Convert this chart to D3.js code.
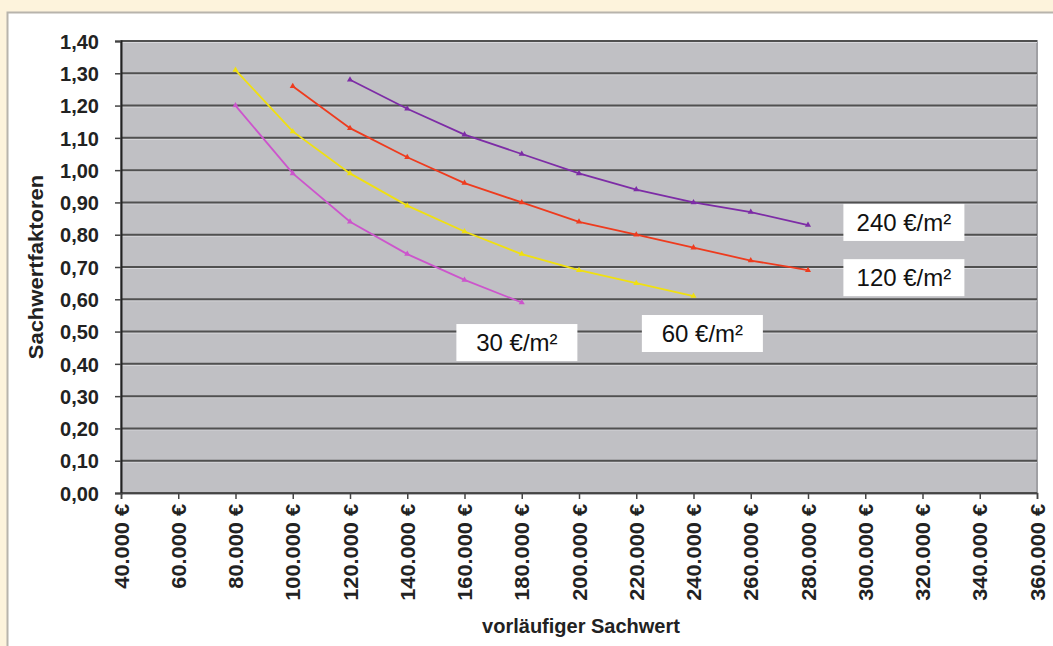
<!DOCTYPE html>
<html><head><meta charset="utf-8">
<script src="https://cdn.jsdelivr.net/npm/d3@7"></script>
<style>
html,body{margin:0;padding:0;background:#fdf3dc;}
svg{display:block;}
text{font-family:"Liberation Sans",Arial,sans-serif;}
</style></head>
<body>
<svg id="chart" width="1053" height="646"></svg>
<script>
const xTicks = [40000,60000,80000,100000,120000,140000,160000,180000,200000,220000,240000,260000,280000,300000,320000,340000,360000];
const yTicks = [0,0.1,0.2,0.3,0.4,0.5,0.6,0.7,0.8,0.9,1.0,1.1,1.2,1.3,1.4];

const s240x = [120000,140000,160000,180000,200000,220000,240000,260000,280000];
const s240y = [1.28,1.19,1.11,1.05,0.99,0.94,0.90,0.87,0.83];
const s120x = [100000,120000,140000,160000,180000,200000,220000,240000,260000,280000];
const s120y = [1.26,1.13,1.04,0.96,0.90,0.84,0.80,0.76,0.72,0.69];
const s60x = [80000,100000,120000,140000,160000,180000,200000,220000,240000];
const s60y = [1.31,1.12,0.99,0.89,0.81,0.74,0.69,0.65,0.61];
const s30x = [80000,100000,120000,140000,160000,180000];
const s30y = [1.20,0.99,0.84,0.74,0.66,0.59];

const seriesNames = ["240 €/m²","120 €/m²","60 €/m²","30 €/m²"];
const seriesColors = ["#7d2ca6","#ee3b1e","#f0e010","#cc55cc"];
// label box centres (data coords)
const labelX = [313500,313500,243100,178300];
const labelY = [0.838,0.667,0.494,0.466];

const series = [
  {name:seriesNames[0], color:seriesColors[0], pts:s240x.map((x,i)=>[x,s240y[i]])},
  {name:seriesNames[1], color:seriesColors[1], pts:s120x.map((x,i)=>[x,s120y[i]])},
  {name:seriesNames[2], color:seriesColors[2], pts:s60x.map((x,i)=>[x,s60y[i]])},
  {name:seriesNames[3], color:seriesColors[3], pts:s30x.map((x,i)=>[x,s30y[i]])}
];

const svg = d3.select("#chart");
svg.append("rect").attr("x",7.5).attr("y",12.5).attr("width",1060).attr("height",650)
  .attr("fill","#fff").attr("stroke","#b8b4ac").attr("stroke-width",2);

const L=121, R=1037, T=41, B=493;
const x = d3.scaleLinear().domain([40000,360000]).range([L,R]);
const y = d3.scaleLinear().domain([0,1.4]).range([B,T]);

svg.append("rect").attr("x",L).attr("y",T).attr("width",R-L).attr("height",B-T)
  .attr("fill","#c0c0c4").attr("stroke","#a0a0a4").attr("stroke-width",2);

const g = svg.append("g");
yTicks.forEach(v=>{
  g.append("line").attr("x1",L).attr("x2",R).attr("y1",y(v)+1.5).attr("y2",y(v)+1.5)
   .attr("stroke","#d8d8dc").attr("stroke-width",1);
  g.append("line").attr("x1",L).attr("x2",R).attr("y1",y(v)).attr("y2",y(v))
   .attr("stroke","#505050").attr("stroke-width",2);
});

const FONT = "'Liberation Sans',Arial,sans-serif";
const fmtY = d => d3.format(".2f")(d).replace(".",",");
const yAxis = d3.axisLeft(y).tickValues(yTicks).tickFormat(fmtY).tickSize(6).tickPadding(16);
const ya = svg.append("g").attr("transform",`translate(${L},0)`).call(yAxis);
ya.select(".domain").attr("stroke","#222").attr("stroke-width",2);
ya.selectAll(".tick line").attr("stroke","#444").attr("stroke-width",1.5);
ya.selectAll("text").attr("font-size",20).attr("font-weight","bold").attr("fill","#222")
  .style("font-family",FONT).attr("dy","0.36em");

const fmtX = d => d3.format(",")(d).replace(/,/g,".") + " €";
const xAxis = d3.axisBottom(x).tickValues(xTicks).tickFormat(fmtX).tickSize(6).tickPadding(0);
const xa = svg.append("g").attr("transform",`translate(0,${B})`).call(xAxis);
xa.select(".domain").attr("stroke","#444").attr("stroke-width",1.5);
xa.selectAll(".tick line").attr("stroke","#444").attr("stroke-width",1.5);
xa.selectAll("text").attr("font-size",20).attr("font-weight","bold").attr("fill","#222")
  .style("font-family",FONT)
  .attr("transform","rotate(-90) scale(1.09,1)").attr("text-anchor","end")
  .attr("x",-10).attr("y",0).attr("dy","0.36em");

svg.append("text").attr("x",581).attr("y",633).attr("text-anchor","middle")
  .attr("font-size",20).attr("font-weight","bold").attr("fill","#222").text("vorläufiger Sachwert");
svg.append("text").attr("transform","translate(43,267) rotate(-90) scale(1.1,1)").attr("text-anchor","middle")
  .attr("font-size",20).attr("font-weight","bold").attr("fill","#222").text("Sachwertfaktoren");

const line = d3.line().x(d=>x(d[0])).y(d=>y(d[1]));
const tri = d3.symbol().type(d3.symbolTriangle).size(16);
series.forEach(s=>{
  svg.append("path").datum(s.pts).attr("d",line).attr("fill","none")
    .attr("stroke",s.color).attr("stroke-width",1.8);
  svg.append("g").selectAll("path").data(s.pts).join("path")
    .attr("d",tri).attr("transform",d=>`translate(${x(d[0])},${y(d[1])})`)
    .attr("fill",s.color);
});

series.forEach((s,i)=>{
  const cx = x(labelX[i]), cy = y(labelY[i]);
  const w = 121, h = 37;
  svg.append("rect").attr("x",cx-w/2).attr("y",cy-h/2).attr("width",w).attr("height",h).attr("fill","#fff");
  svg.append("text").attr("x",cx).attr("y",cy).attr("dy","0.36em").attr("text-anchor","middle")
    .attr("font-size",24).attr("fill","#111").text(s.name);
});
</script>
</body></html>
